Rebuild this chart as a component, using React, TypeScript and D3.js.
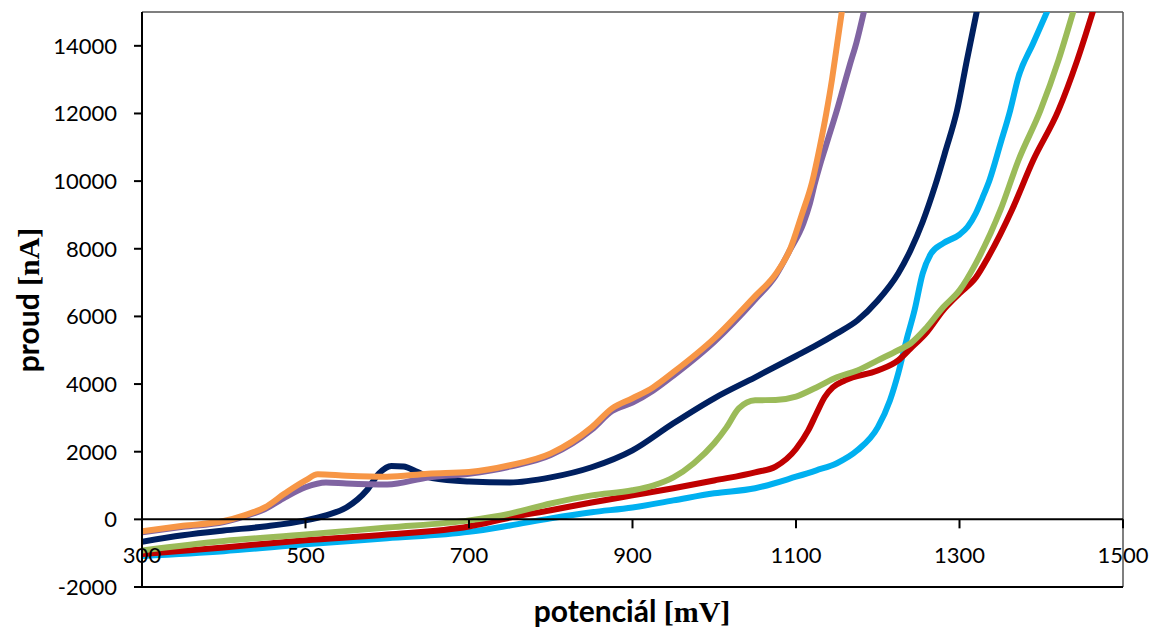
import React from "react";
import * as d3 from "d3";

const xTicks = [300, 500, 700, 900, 1100, 1300, 1500];
const yTicks = [-2000, 0, 2000, 4000, 6000, 8000, 10000, 12000, 14000];

const orange: [number, number][] = [
  [300, -350], [350, -190], [400, -50], [425, 120], [450, 350], [475, 770], [500, 1150], [515, 1330],
  [550, 1290], [600, 1260], [650, 1350], [700, 1400], [750, 1600], [800, 1950], [850, 2720], [875, 3280],
  [900, 3580], [925, 3900], [950, 4350], [1000, 5350], [1050, 6600], [1075, 7250], [1093, 8000],
  [1107, 9000], [1120, 10000], [1129, 11000], [1137, 12000], [1144, 13000], [1150, 14000], [1156, 15000],
];
const purple: [number, number][] = [
  [300, -380], [350, -220], [400, -80], [425, 90], [450, 300], [475, 650], [500, 950], [525, 1090],
  [550, 1060], [600, 1030], [650, 1240], [700, 1350], [750, 1560], [800, 1900], [850, 2650], [875, 3200],
  [900, 3450], [925, 3800], [950, 4250], [1000, 5250], [1050, 6500], [1075, 7200], [1093, 7980],
  [1109, 8750], [1117, 9340], [1123, 9930], [1129, 10450], [1136, 11000], [1144, 11620], [1150, 12090],
  [1158, 12770], [1166, 13450], [1174, 14100], [1183, 15000],
];
const navy: [number, number][] = [
  [300, -660], [350, -470], [400, -330], [450, -210], [500, -30], [525, 120], [550, 350], [575, 860],
  [590, 1360], [605, 1580], [620, 1560], [635, 1420], [655, 1220], [700, 1120], [750, 1090], [800, 1240],
  [850, 1540], [900, 2040], [950, 2840], [1000, 3580], [1050, 4200], [1100, 4830], [1125, 5150],
  [1150, 5500], [1175, 5880], [1200, 6470], [1225, 7270], [1240, 7950], [1255, 8800], [1270, 9850],
  [1283, 10900], [1297, 12090], [1309, 13570], [1321, 15000],
];
const lightBlue: [number, number][] = [
  [300, -1080], [400, -940], [500, -740], [600, -560], [700, -370], [750, -180], [800, 30], [850, 210],
  [900, 350], [950, 560], [1000, 770], [1050, 920], [1100, 1260], [1125, 1450], [1150, 1660],
  [1175, 2040], [1200, 2720], [1215, 3520], [1225, 4310], [1235, 5290], [1245, 6180], [1255, 7270],
  [1265, 7850], [1280, 8160], [1300, 8420], [1310, 8650], [1320, 9050], [1328, 9500], [1337, 10050],
  [1350, 11100], [1362, 12090], [1372, 13070], [1390, 14070], [1407, 15000],
];
const green: [number, number][] = [
  [300, -920], [400, -640], [500, -450], [600, -240], [700, -30], [750, 170], [800, 470], [850, 710],
  [900, 860], [925, 1000], [950, 1240], [975, 1660], [1000, 2250], [1015, 2720], [1030, 3280],
  [1050, 3520], [1075, 3530], [1100, 3630], [1125, 3900], [1150, 4200], [1175, 4400], [1200, 4700],
  [1225, 5000], [1240, 5200], [1260, 5680], [1280, 6270], [1300, 6770], [1320, 7570], [1350, 9140],
  [1372, 10610], [1399, 12090], [1421, 13570], [1439, 15000],
];
const red: [number, number][] = [
  [300, -1030], [400, -830], [500, -620], [600, -450], [700, -210], [750, 50], [800, 270], [850, 500],
  [900, 710], [950, 920], [1000, 1150], [1050, 1390], [1075, 1560], [1100, 2080], [1115, 2630],
  [1125, 3130], [1135, 3610], [1145, 3900], [1160, 4110], [1200, 4400], [1225, 4700], [1240, 5050],
  [1260, 5530], [1280, 6180], [1300, 6680], [1320, 7150], [1335, 7750], [1364, 9140], [1390, 10610],
  [1421, 12090], [1444, 13570], [1463, 15000],
];

const seriesList = [
  { name: "lightBlue", color: "#00B0F0", data: lightBlue },
  { name: "red", color: "#C00000", data: red },
  { name: "green", color: "#9BBB59", data: green },
  { name: "navy", color: "#002060", data: navy },
  { name: "purple", color: "#8064A2", data: purple },
  { name: "orange", color: "#F79646", data: orange },
];

export default function App() {
  const W = 1155, H = 630;
  const left = 142, right = 1123, top = 12, bottom = 587;
  const x = d3.scaleLinear().domain([300, 1500]).range([left, right]);
  const y = d3.scaleLinear().domain([-2000, 15000]).range([bottom, top]);
  const line = d3
    .line<[number, number]>()
    .x((d) => x(d[0]))
    .y((d) => y(d[1]))
    .curve(d3.curveMonotoneX);
  const y0 = y(0);
  const tickFont = "Lato, 'Open Sans', sans-serif";

  return (
    <svg width={W} height={H} style={{ position: "absolute", left: 0, top: 0 }}>
      <rect x={0} y={0} width={W} height={H} fill="#fff" />
      <defs>
        <clipPath id="plot">
          <rect x={left} y={top} width={right - left} height={bottom - top} />
        </clipPath>
      </defs>
      {/* frame */}
      <line x1={left} x2={right} y1={top} y2={top} stroke="#555" strokeWidth={1.5} />
      <line x1={right} x2={right} y1={top} y2={bottom} stroke="#555" strokeWidth={1.5} />
      <line x1={left} x2={right} y1={bottom} y2={bottom} stroke="#000" strokeWidth={2} />
      {/* series */}
      <g clipPath="url(#plot)">
        {seriesList.map((s) => (
          <path
            key={s.name}
            d={line(s.data) || ""}
            fill="none"
            stroke={s.color}
            strokeWidth={6}
            strokeLinejoin="round"
            strokeLinecap="round"
          />
        ))}
      </g>
      {/* y axis */}
      <line x1={left} x2={left} y1={top} y2={bottom} stroke="#000" strokeWidth={2} />
      {yTicks.map((t) => (
        <g key={t}>
          <line x1={left - 8} x2={left} y1={y(t)} y2={y(t)} stroke="#000" strokeWidth={2} />
          <text x={117} y={y(t) + 8} textAnchor="end" fontFamily={tickFont} fontSize={22} fill="#000">
            {t}
          </text>
        </g>
      ))}
      {/* x axis at y=0 */}
      <line x1={left} x2={right} y1={y0} y2={y0} stroke="#000" strokeWidth={2} />
      {xTicks.map((t) => (
        <g key={t}>
          <line x1={x(t)} x2={x(t)} y1={y0} y2={y0 + 9} stroke="#000" strokeWidth={2} />
          <text x={x(t)} y={y0 + 44} textAnchor="middle" fontFamily={tickFont} fontSize={22} fill="#000">
            {t}
          </text>
        </g>
      ))}
      {/* axis titles */}
      <text x={632} y={622} textAnchor="middle" fontSize={30} fontWeight="bold" fill="#000">
        <tspan fontFamily={tickFont}>potenciál </tspan>
        <tspan fontFamily="'Liberation Serif', serif">[mV]</tspan>
      </text>
      <text
        transform={`translate(39, 300) rotate(-90)`}
        textAnchor="middle"
        fontSize={30}
        fontWeight="bold"
        fill="#000"
      >
        <tspan fontFamily={tickFont}>proud </tspan>
        <tspan fontFamily="'Liberation Serif', serif">[nA]</tspan>
      </text>
    </svg>
  );
}
